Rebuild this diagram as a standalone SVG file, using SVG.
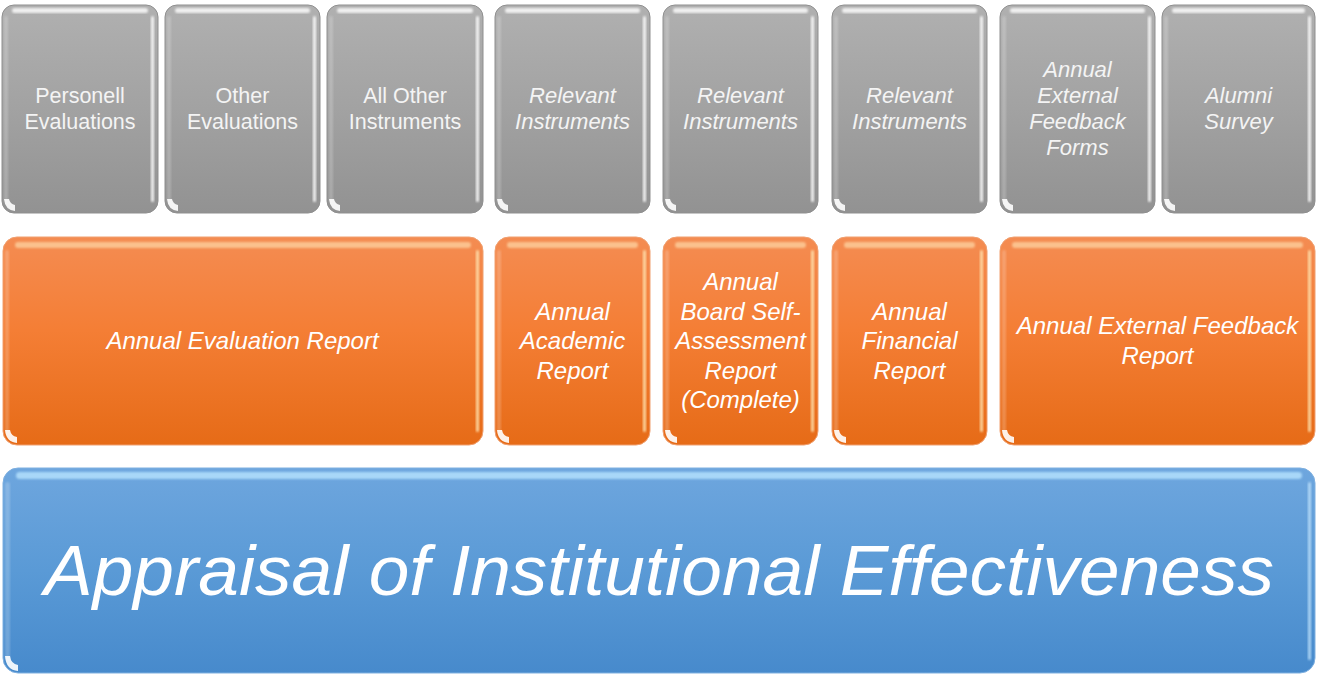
<svg xmlns="http://www.w3.org/2000/svg" width="1317" height="675" viewBox="0 0 1317 675">
  <defs>
    <linearGradient id="gGray" x1="0" y1="0" x2="0" y2="1">
      <stop offset="0" stop-color="#b0b0b0"/>
      <stop offset="0.5" stop-color="#a2a2a2"/>
      <stop offset="1" stop-color="#929292"/>
    </linearGradient>
    <linearGradient id="gOrange" x1="0" y1="0" x2="0" y2="1">
      <stop offset="0" stop-color="#f48c52"/>
      <stop offset="0.45" stop-color="#f47e35"/>
      <stop offset="1" stop-color="#e66b17"/>
    </linearGradient>
    <linearGradient id="gBlue" x1="0" y1="0" x2="0" y2="1">
      <stop offset="0" stop-color="#6ea6de"/>
      <stop offset="0.5" stop-color="#5a9ad6"/>
      <stop offset="1" stop-color="#478acc"/>
    </linearGradient>
    <filter id="soft" x="-20%" y="-20%" width="140%" height="140%">
      <feGaussianBlur stdDeviation="1"/>
    </filter>
  </defs>
  <style>
    .gray { fill: url(#gGray); stroke: #8f8f8f; stroke-width: 1; }
    .orange { fill: url(#gOrange); stroke: #f0a070; stroke-width: 1; }
    .blue { fill: url(#gBlue); stroke: #7fb0e0; stroke-width: 1; }
    .hiTop { fill: #ffffff; opacity: 0.8; filter: url(#soft); }
    .hiSide { fill: #ffffff; opacity: 0.85; filter: url(#soft); }
    .hiLeft { fill: #ffffff; opacity: 0.2; filter: url(#soft); }
    .hiOrTop { fill: #ffd9a8; opacity: 0.7; filter: url(#soft); }
    .hiOrSide { fill: #ffe3b0; opacity: 0.85; filter: url(#soft); }
    .hiBlTop { fill: #b8e4ff; opacity: 0.8; filter: url(#soft); }
    .hiBlSide { fill: #c8e8ff; opacity: 0.75; filter: url(#soft); }
    .corner { fill: #ffffff; opacity: 0.9; }
    .t { font-family: "Liberation Sans", "Open Sans", sans-serif; fill: #ffffff; text-anchor: middle; }
    .tg { font-size: 21.5px; fill: #f4f4f4; }
    .tgi { font-size: 22px; fill: #f4f4f4; font-style: italic; }
    .ti { font-style: italic; }
    .to { font-size: 24px; }
    .tb { font-size: 70px; }
  </style>

  <!-- top row: source instruments -->
  <g id="n-personell">
    <rect class="gray" x="2" y="5" width="156" height="208" rx="12"/>
    <rect class="hiTop" x="12" y="8" width="136" height="5" rx="2.5"/>
    <rect class="hiSide" x="151" y="16" width="3" height="186" rx="1.5"/>
    <rect class="hiLeft" x="4" y="16" width="4" height="186" rx="2"/>
    <path class="corner" d="M4,199 Q5,210 15,211 L15,205 Q10,204 9,199 Z"/>
    <text class="t tg" x="80" y="103">Personell<tspan x="80" dy="26">Evaluations</tspan></text>
  </g>
  <g id="n-other-evals">
    <rect class="gray" x="165" y="5" width="155" height="208" rx="12"/>
    <rect class="hiTop" x="175" y="8" width="135" height="5" rx="2.5"/>
    <rect class="hiSide" x="313" y="16" width="3" height="186" rx="1.5"/>
    <rect class="hiLeft" x="167" y="16" width="4" height="186" rx="2"/>
    <path class="corner" d="M167,199 Q168,210 178,211 L178,205 Q173,204 172,199 Z"/>
    <text class="t tg" x="242.5" y="103">Other<tspan x="242.5" dy="26">Evaluations</tspan></text>
  </g>
  <g id="n-all-other">
    <rect class="gray" x="327" y="5" width="156" height="208" rx="12"/>
    <rect class="hiTop" x="337" y="8" width="136" height="5" rx="2.5"/>
    <rect class="hiSide" x="476" y="16" width="3" height="186" rx="1.5"/>
    <rect class="hiLeft" x="329" y="16" width="4" height="186" rx="2"/>
    <path class="corner" d="M329,199 Q330,210 340,211 L340,205 Q335,204 334,199 Z"/>
    <text class="t tg" x="405" y="103">All Other<tspan x="405" dy="26">Instruments</tspan></text>
  </g>
  <g id="n-relevant-1">
    <rect class="gray" x="495" y="5" width="155" height="208" rx="12"/>
    <rect class="hiTop" x="505" y="8" width="135" height="5" rx="2.5"/>
    <rect class="hiSide" x="643" y="16" width="3" height="186" rx="1.5"/>
    <rect class="hiLeft" x="497" y="16" width="4" height="186" rx="2"/>
    <path class="corner" d="M497,199 Q498,210 508,211 L508,205 Q503,204 502,199 Z"/>
    <text class="t tgi" x="572.5" y="103">Relevant<tspan x="572.5" dy="26">Instruments</tspan></text>
  </g>
  <g id="n-relevant-2">
    <rect class="gray" x="663" y="5" width="155" height="208" rx="12"/>
    <rect class="hiTop" x="673" y="8" width="135" height="5" rx="2.5"/>
    <rect class="hiSide" x="811" y="16" width="3" height="186" rx="1.5"/>
    <rect class="hiLeft" x="665" y="16" width="4" height="186" rx="2"/>
    <path class="corner" d="M665,199 Q666,210 676,211 L676,205 Q671,204 670,199 Z"/>
    <text class="t tgi" x="740.5" y="103">Relevant<tspan x="740.5" dy="26">Instruments</tspan></text>
  </g>
  <g id="n-relevant-3">
    <rect class="gray" x="832" y="5" width="155" height="208" rx="12"/>
    <rect class="hiTop" x="842" y="8" width="135" height="5" rx="2.5"/>
    <rect class="hiSide" x="980" y="16" width="3" height="186" rx="1.5"/>
    <rect class="hiLeft" x="834" y="16" width="4" height="186" rx="2"/>
    <path class="corner" d="M834,199 Q835,210 845,211 L845,205 Q840,204 839,199 Z"/>
    <text class="t tgi" x="909.5" y="103">Relevant<tspan x="909.5" dy="26">Instruments</tspan></text>
  </g>
  <g id="n-feedback-forms">
    <rect class="gray" x="1000" y="5" width="155" height="208" rx="12"/>
    <rect class="hiTop" x="1010" y="8" width="135" height="5" rx="2.5"/>
    <rect class="hiSide" x="1148" y="16" width="3" height="186" rx="1.5"/>
    <rect class="hiLeft" x="1002" y="16" width="4" height="186" rx="2"/>
    <path class="corner" d="M1002,199 Q1003,210 1013,211 L1013,205 Q1008,204 1007,199 Z"/>
    <text class="t tgi" x="1077.5" y="77">Annual<tspan x="1077.5" dy="26">External</tspan><tspan x="1077.5" dy="26">Feedback</tspan><tspan x="1077.5" dy="26">Forms</tspan></text>
  </g>
  <g id="n-alumni">
    <rect class="gray" x="1162" y="5" width="153" height="208" rx="12"/>
    <rect class="hiTop" x="1172" y="8" width="133" height="5" rx="2.5"/>
    <rect class="hiSide" x="1308" y="16" width="3" height="186" rx="1.5"/>
    <rect class="hiLeft" x="1164" y="16" width="4" height="186" rx="2"/>
    <path class="corner" d="M1164,199 Q1165,210 1175,211 L1175,205 Q1170,204 1169,199 Z"/>
    <text class="t tgi" x="1238.5" y="103">Alumni<tspan x="1238.5" dy="26">Survey</tspan></text>
  </g>

  <!-- middle row: annual reports -->
  <g id="n-eval-report">
    <rect class="orange" x="3" y="237" width="480" height="208" rx="14"/>
    <rect class="hiOrTop" x="15" y="242" width="456" height="6" rx="3"/>
    <rect class="hiOrSide" x="476" y="250" width="3" height="182" rx="1.5"/>
    <rect class="hiLeft" x="5" y="250" width="4" height="182" rx="2"/>
    <path class="corner" d="M5,430 Q6,442 17,443 L17,437 Q11,436 10,430 Z"/>
    <text class="t to ti" x="242.5" y="349">Annual Evaluation Report</text>
  </g>
  <g id="n-academic">
    <rect class="orange" x="495" y="237" width="155" height="208" rx="14"/>
    <rect class="hiOrTop" x="507" y="242" width="131" height="6" rx="3"/>
    <rect class="hiOrSide" x="643" y="250" width="3" height="182" rx="1.5"/>
    <rect class="hiLeft" x="497" y="250" width="4" height="182" rx="2"/>
    <path class="corner" d="M497,430 Q498,442 509,443 L509,437 Q503,436 502,430 Z"/>
    <text class="t to ti" x="572.5" y="319.5">Annual<tspan x="572.5" dy="29.5">Academic</tspan><tspan x="572.5" dy="29.5">Report</tspan></text>
  </g>
  <g id="n-board">
    <rect class="orange" x="663" y="237" width="155" height="208" rx="14"/>
    <rect class="hiOrTop" x="675" y="242" width="131" height="6" rx="3"/>
    <rect class="hiOrSide" x="811" y="250" width="3" height="182" rx="1.5"/>
    <rect class="hiLeft" x="665" y="250" width="4" height="182" rx="2"/>
    <path class="corner" d="M665,430 Q666,442 677,443 L677,437 Q671,436 670,430 Z"/>
    <text class="t to ti" x="740.5" y="290">Annual<tspan x="740.5" dy="29.5">Board Self-</tspan><tspan x="740.5" dy="29.5">Assessment</tspan><tspan x="740.5" dy="29.5">Report</tspan><tspan x="740.5" dy="29.5">(Complete)</tspan></text>
  </g>
  <g id="n-financial">
    <rect class="orange" x="832" y="237" width="155" height="208" rx="14"/>
    <rect class="hiOrTop" x="844" y="242" width="131" height="6" rx="3"/>
    <rect class="hiOrSide" x="980" y="250" width="3" height="182" rx="1.5"/>
    <rect class="hiLeft" x="834" y="250" width="4" height="182" rx="2"/>
    <path class="corner" d="M834,430 Q835,442 846,443 L846,437 Q840,436 839,430 Z"/>
    <text class="t to ti" x="909.5" y="319.5">Annual<tspan x="909.5" dy="29.5">Financial</tspan><tspan x="909.5" dy="29.5">Report</tspan></text>
  </g>
  <g id="n-ext-feedback">
    <rect class="orange" x="1000" y="237" width="315" height="208" rx="14"/>
    <rect class="hiOrTop" x="1012" y="242" width="291" height="6" rx="3"/>
    <rect class="hiOrSide" x="1308" y="250" width="3" height="182" rx="1.5"/>
    <rect class="hiLeft" x="1002" y="250" width="4" height="182" rx="2"/>
    <path class="corner" d="M1002,430 Q1003,442 1014,443 L1014,437 Q1008,436 1007,430 Z"/>
    <text class="t to ti" x="1157.5" y="334">Annual External Feedback<tspan x="1157.5" dy="29.5">Report</tspan></text>
  </g>

  <!-- base: overall appraisal -->
  <g id="n-appraisal">
    <rect class="blue" x="3" y="468" width="1312" height="205" rx="15"/>
    <rect class="hiBlTop" x="16" y="472" width="1286" height="7" rx="3.5"/>
    <rect class="hiBlSide" x="1308" y="482" width="3" height="178" rx="1.5"/>
    <rect class="hiLeft" x="5" y="482" width="5" height="178" rx="2.5"/>
    <path class="corner" d="M5,656 Q6,670 18,671 L18,665 Q11,664 10,656 Z"/>
    <text class="t tb ti" x="659" y="595" textLength="1230" lengthAdjust="spacingAndGlyphs">Appraisal of Institutional Effectiveness</text>
  </g>

  <!-- no connectors are drawn between the tiers -->
  <g id="connectors"/>
</svg>
